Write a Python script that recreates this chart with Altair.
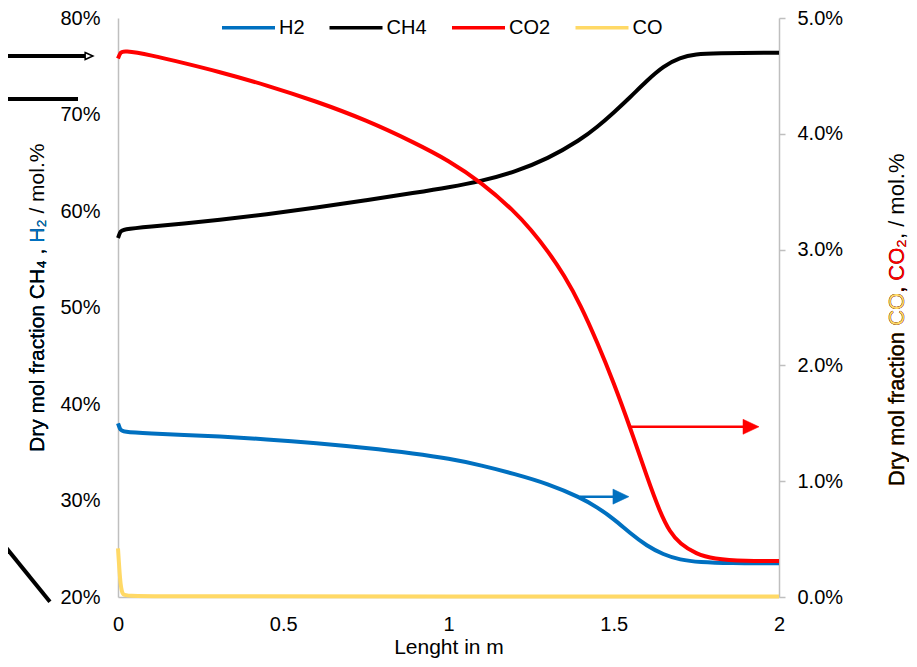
import altair as alt
import pandas as pd

# ---- data (x in m, values in mol.%) ----
h2_x = [0, 0.006, 0.012, 0.1, 0.2, 0.3, 0.45, 0.6, 0.75, 0.9, 1.0, 1.1, 1.2, 1.3, 1.4, 1.45, 1.5,
        1.55, 1.6, 1.65, 1.7, 1.76, 1.85, 2.0]
h2_v = [38.0, 37.4, 37.1, 36.95, 36.8, 36.65, 36.35, 35.95, 35.45, 34.85, 34.35, 33.65, 32.75, 31.75,
        30.3, 29.3, 28.1, 26.6, 25.3, 24.4, 23.85, 23.6, 23.5, 23.5]

ch4_x = [0, 0.006, 0.012, 0.1, 0.2, 0.3, 0.45, 0.6, 0.75, 0.9, 1.0, 1.1, 1.2, 1.3, 1.4, 1.45, 1.5,
         1.55, 1.6, 1.65, 1.7, 1.75, 1.8, 2.0]
ch4_v = [57.2, 57.8, 58.1, 58.4, 58.7, 59.05, 59.65, 60.35, 61.1, 61.9, 62.45, 63.1, 64.05, 65.4,
         67.4, 68.7, 70.2, 71.8, 73.5, 75.0, 75.9, 76.25, 76.35, 76.4]

co2_x = [0, 0.007, 0.015, 0.1, 0.2, 0.3, 0.45, 0.6, 0.75, 0.9, 1.0, 1.1, 1.2, 1.25, 1.3, 1.35, 1.4,
         1.45, 1.5, 1.55, 1.6, 1.64, 1.67, 1.7, 1.75, 1.8, 1.9, 2.0]
co2_v = [4.65, 4.70, 4.72, 4.68, 4.61, 4.54, 4.42, 4.28, 4.12, 3.92, 3.77, 3.58, 3.33, 3.17, 2.99,
         2.78, 2.52, 2.20, 1.85, 1.46, 1.04, 0.73, 0.56, 0.46, 0.37, 0.33, 0.31, 0.31]

co_x = [0, 0.006, 0.012, 0.03, 1.0, 2.0]
co_v = [0.42, 0.15, 0.01, 0.005, 0.005, 0.005]

series_order = ["H2", "CH4", "CO2", "CO"]
series_colors = ["#0070C0", "#000000", "#FF0000", "#FFD966"]

x_ticks = [0, 0.5, 1, 1.5, 2]
left_ticks = [0.2, 0.3, 0.4, 0.5, 0.6, 0.7, 0.8]
right_ticks = [0.0, 0.01, 0.02, 0.03, 0.04, 0.05]

# annotation arrows: start x, end of shaft, tip x, level (mol.%)
blue_arrow = {"x": [1.398], "x2": [1.53], "tip": [1.546], "v": [30.4]}
red_arrow = {"x": [1.549], "x2": [1.92], "tip": [1.9395], "v": [1.47]}

# cropped-in strokes from a neighbouring figure at the far left (left-axis units)
stray_x = [-0.36, -0.36, -0.357]
stray_x2 = [-0.095, -0.121, -0.206]
stray_y = [76.06, 71.6, 25.9]
stray_y2 = [76.06, 71.6, 19.5]
stray_head_x = [-0.0877]
stray_head_y = [76.06]

left_title = "Dry mol fraction CH\u2084 , H\u2082 / mol.%"
left_title_pre = "Dry mol fraction CH\u2084 , "
left_title_mid = "Dry mol fraction CH\u2084 , H\u2082"
right_title = "Dry mol fraction CO, CO\u2082, / mol.%"
right_title_p1 = "Dry mol fraction "
right_title_p2 = "Dry mol fraction CO"
right_title_p3 = "Dry mol fraction CO, "
right_title_p4 = "Dry mol fraction CO, CO\u2082"


def long(name, xs, vs):
    return pd.DataFrame({"x": xs, "v": [v / 100 for v in vs], "series": name})


left_df = pd.concat([long("H2", h2_x, h2_v), long("CH4", ch4_x, ch4_v)], ignore_index=True)
right_df = pd.concat([long("CO2", co2_x, co2_v), long("CO", co_x, co_v)], ignore_index=True)

FONT = "Liberation Sans"
GRAY = "#BFBFBF"
INTERP = "basis"

color = alt.Color(
    "series:N",
    scale=alt.Scale(domain=series_order, range=series_colors),
    sort=series_order,
    legend=alt.Legend(
        title=None, orient="none", legendX=102, legendY=-19, direction="horizontal",
        columns=4, symbolType="stroke", symbolSize=2809, symbolStrokeWidth=3.5,
        labelFontSize=20, labelFont=FONT, labelColor="black", labelOffset=2,
        columnPadding=17.5, padding=0, labelLimit=300,
    ),
)

x_main = alt.X(
    "x:Q",
    scale=alt.Scale(domain=[0, 2]),
    axis=alt.Axis(values=x_ticks, format="~g", title="Lenght in m", ticks=False,
                  labelPadding=17, titlePadding=2, labelFlush=False, grid=False),
)
y_left = alt.Y(
    "v:Q",
    scale=alt.Scale(domain=[0.2, 0.8]),
    axis=alt.Axis(orient="left", values=left_ticks, format=".0%", title=None,
                  ticks=False, labelPadding=18, grid=False),
)
y_right = alt.Y(
    "v:Q",
    scale=alt.Scale(domain=[0, 0.05]),
    axis=alt.Axis(orient="right", values=right_ticks, format=".1%", title=None,
                  ticks=True, tickSize=6, tickColor=GRAY, tickWidth=1.5,
                  labelPadding=12, grid=False),
)

ARROW = "M -2 -0.94 L 0 0 L -2 0.94 Z"


def arrow_layers(spec, col, yenc):
    d = pd.DataFrame({"x": spec["x"], "x2": spec["x2"], "v": [v / 100 for v in spec["v"]]})
    t = pd.DataFrame({"x": spec["tip"], "v": [v / 100 for v in spec["v"]]})
    shaft = alt.Chart(d).mark_rule(color=col, strokeWidth=2.5).encode(x=x_main, x2="x2:Q", y=yenc)
    head = alt.Chart(t).mark_point(
        shape=ARROW, size=256, filled=True, fill=col, stroke=col, strokeWidth=0.5, opacity=1
    ).encode(x=x_main, y=yenc)
    return [shaft, head]


left_lines = alt.Chart(left_df).mark_line(strokeWidth=4, interpolate=INTERP).encode(
    x=x_main, y=y_left, color=color
)

sd = pd.DataFrame({"x": stray_x, "x2": stray_x2,
                   "v": [v / 100 for v in stray_y], "v2": [v / 100 for v in stray_y2]})
stray = alt.Chart(sd).mark_rule(color="black", strokeWidth=4).encode(
    x=x_main, x2="x2:Q", y=y_left, y2="v2:Q"
)
shd = pd.DataFrame({"x": stray_head_x, "v": [v / 100 for v in stray_head_y]})
stray_head = alt.Chart(shd).mark_point(
    shape="M -1 -0.9 L 1 0 L -1 0.9 Z", size=60, filled=True, fill="white",
    stroke="black", strokeWidth=1.5, opacity=1,
).encode(x=x_main, y=y_left)


def title_text(txt, col, xpos, ypos, fs):
    return alt.Chart(pd.DataFrame({"t": [txt]})).mark_text(
        angle=270, align="left", baseline="middle", font=FONT, fontSize=fs, fill=col
    ).encode(text="t:N", x=alt.value(xpos), y=alt.value(ypos))


LX, LY = -80, 434
left_titles = [
    title_text(left_title, "black", LX, LY, 21),
    title_text(left_title_mid, "#0070C0", LX, LY, 21),
    title_text(left_title_pre, "black", LX, LY, 21),
]

RX, RY = 779, 468
right_titles = [
    title_text(right_title, "black", RX, RY, 22),
    title_text(right_title_p4, "#FF0000", RX, RY, 22),
    title_text(right_title_p3, "black", RX, RY, 22),
    title_text(right_title_p2, "#FFD966", RX, RY, 22),
    title_text(right_title_p1, "black", RX, RY, 22),
]

left_group = alt.layer(left_lines, *arrow_layers(blue_arrow, "#0070C0", y_left),
                       stray, stray_head, *left_titles)

right_lines = alt.Chart(right_df).mark_line(strokeWidth=4, interpolate=INTERP).encode(
    x=x_main, y=y_right, color=color
)
right_group = alt.layer(right_lines, *arrow_layers(red_arrow, "#FF0000", y_right), *right_titles)

chart = (
    alt.layer(left_group, right_group)
    .resolve_scale(y="independent")
    .properties(
        width=661, height=579,
        autosize=alt.AutoSizeParams(type="none"),
        padding={"left": 110, "top": 10, "right": 130, "bottom": 62},
    )
    .configure(font=FONT, background="white")
    .configure_view(stroke="transparent")
    .configure_axis(
        domainColor=GRAY, domainWidth=1.5, labelFont=FONT, labelFontSize=20,
        labelColor="black", titleFont=FONT, titleFontSize=21, titleColor="black",
        titleFontWeight="normal", labelOverlap=False,
    )
)

chart.save("out.html", embed_options={"renderer": "svg", "actions": False})
